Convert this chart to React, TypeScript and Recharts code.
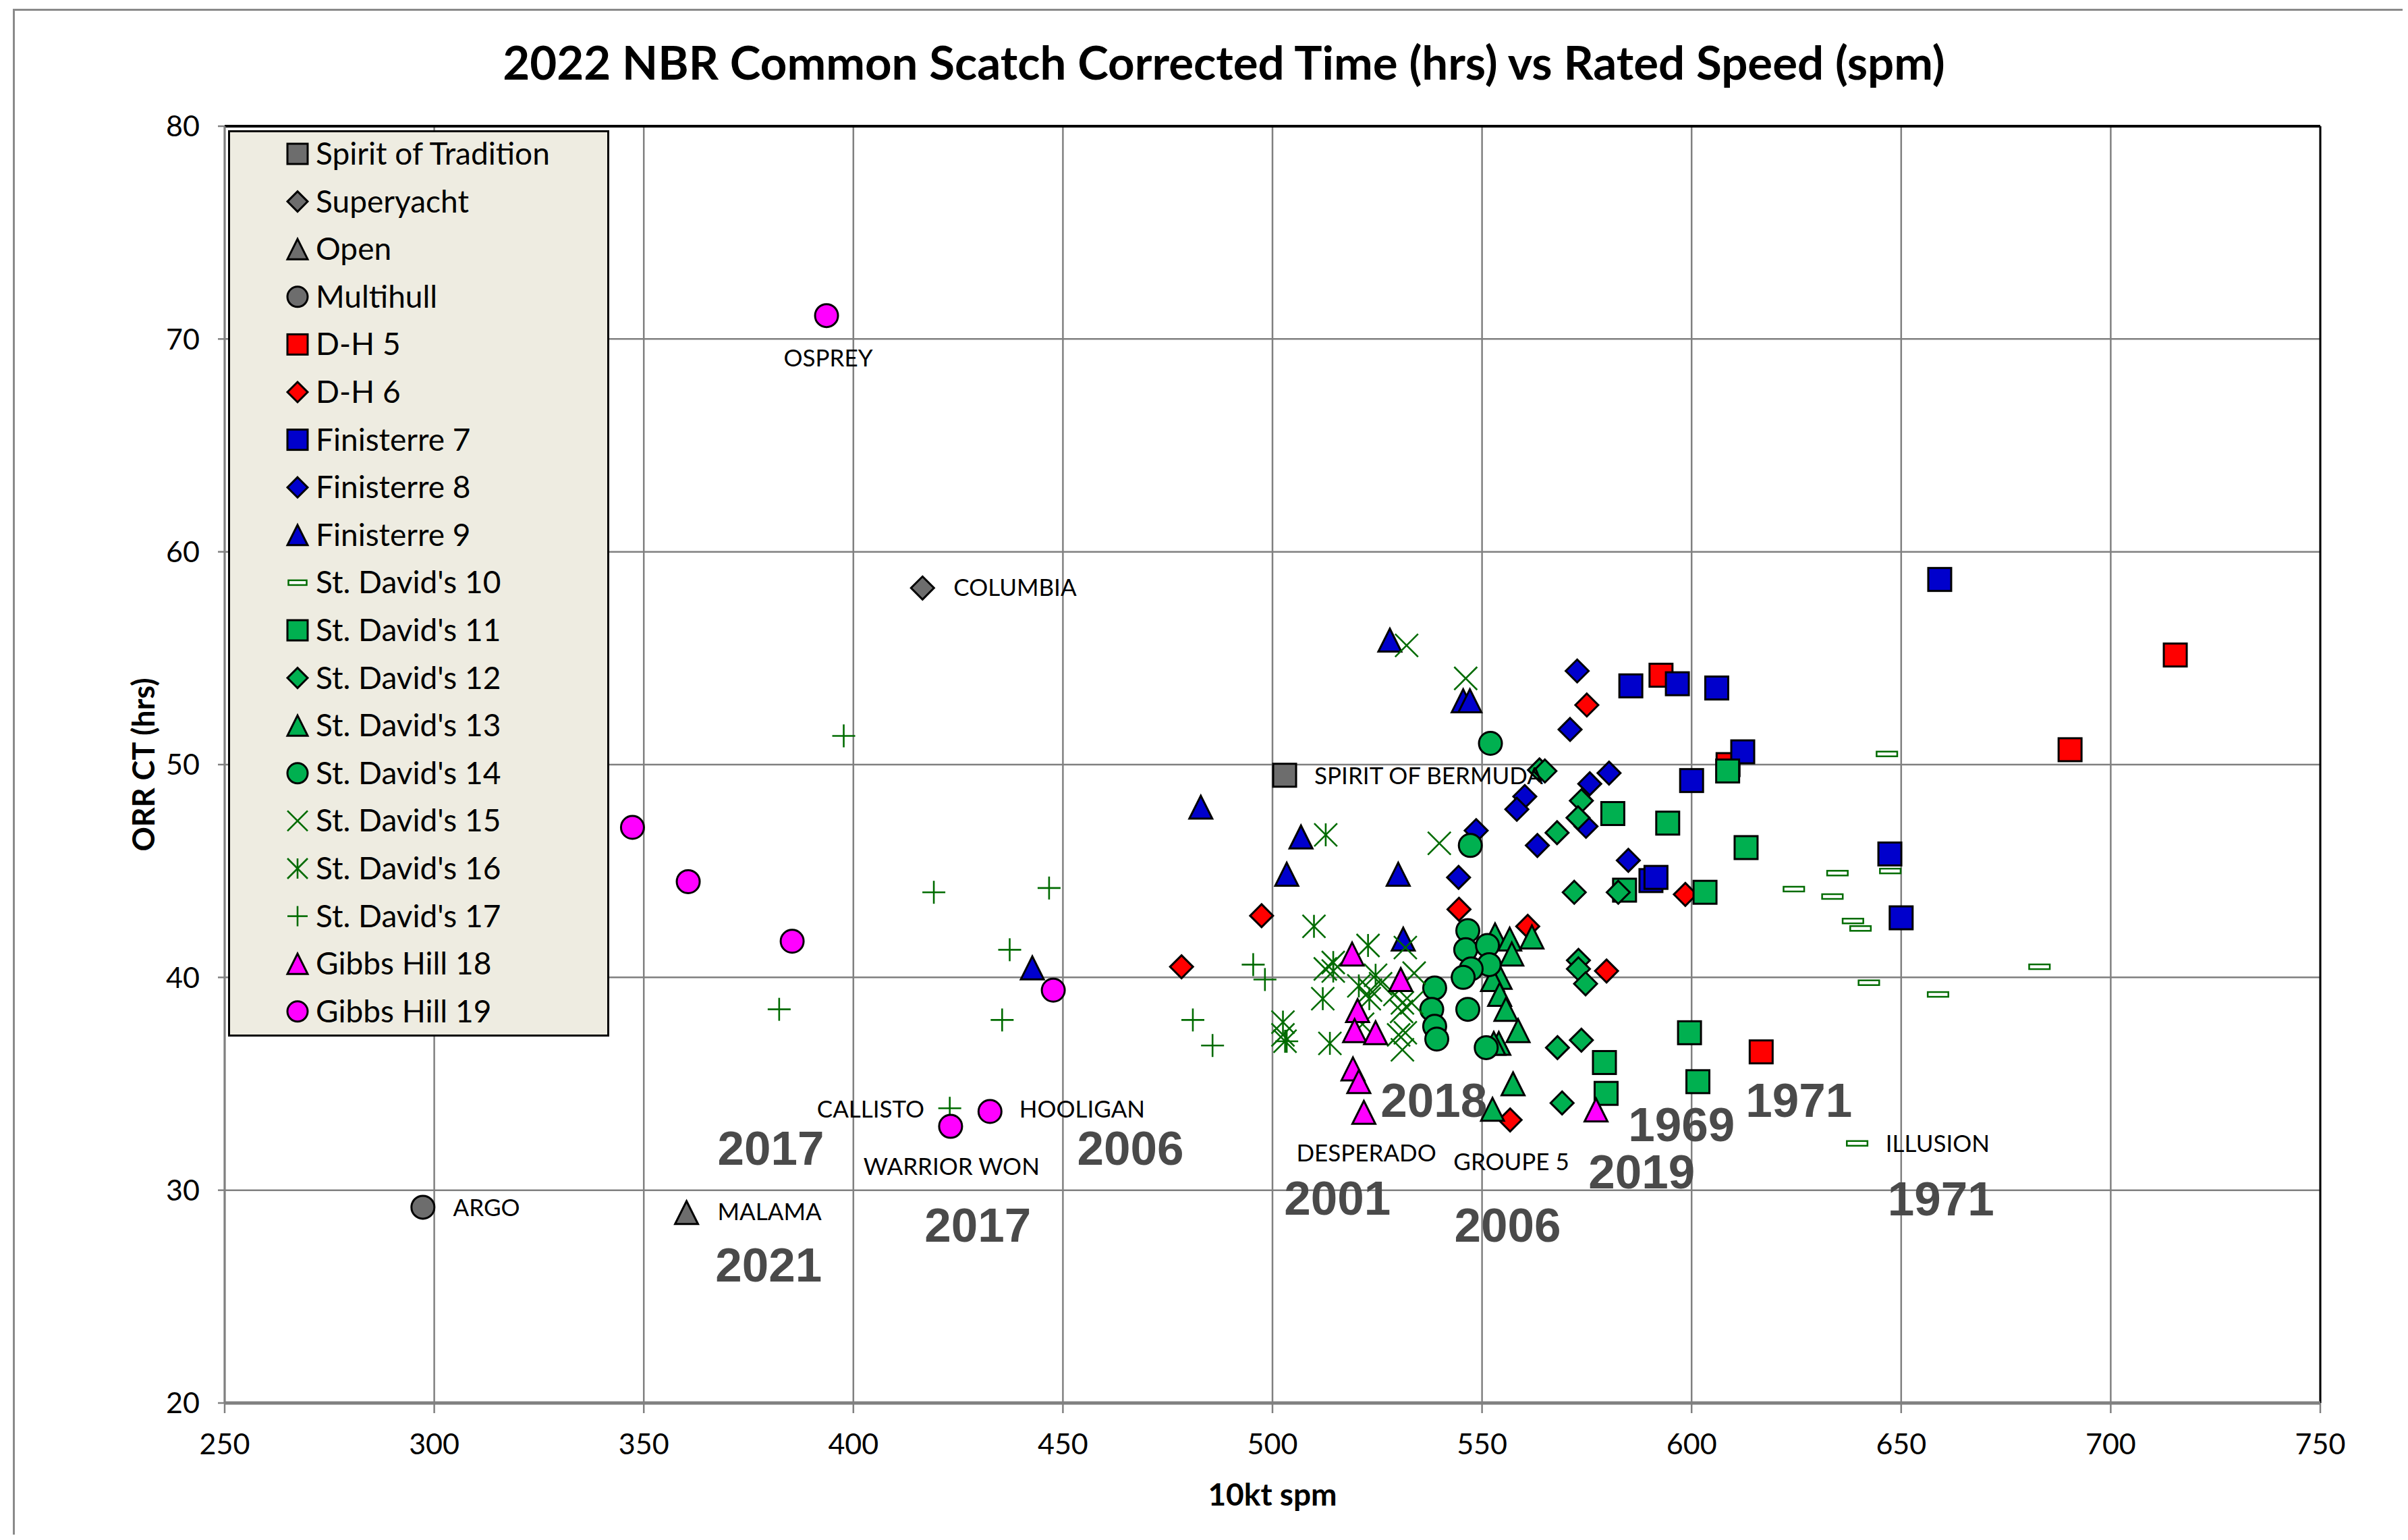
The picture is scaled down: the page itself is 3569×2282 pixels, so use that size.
import React from 'react';
import { ScatterChart, Scatter, XAxis, YAxis, CartesianGrid, ReferenceLine } from 'recharts';

type P = [number, number];
type Kind = 'square' | 'diamond' | 'triangle' | 'circle' | 'dash' | 'x' | 'asterisk' | 'plus';

const xTicks = [250, 300, 350, 400, 450, 500, 550, 600, 650, 700, 750];
const yTicks = [20, 30, 40, 50, 60, 70, 80];

const spiritOfTradition: P[] = [[502.9, 49.5]];
const superyacht: P[] = [[416.5, 58.3]];
const openClass: P[] = [[360.2, 28.95]];
const multihull: P[] = [[297.3, 29.2]];
const dh5: P[] = [[592.7, 54.2], [608.7, 50.0], [616.6, 36.5], [690.3, 50.7], [715.4, 55.15]];
const dh6: P[] = [[575, 52.8], [598.5, 43.9], [497.4, 42.9], [478.3, 40.5], [544.5, 43.2], [560.9, 42.4], [579.7, 40.3], [556.7, 33.3]];
const fin7: P[] = [[585.5, 53.7], [596.6, 53.8], [606, 53.6], [612.2, 50.6], [600, 49.25], [590.3, 44.55], [591.5, 44.7], [659.2, 58.7], [647.3, 45.8], [650, 42.8]];
const fin8: P[] = [[572.7, 54.4], [571, 51.65], [580.3, 49.6], [575.7, 49.1], [560.2, 48.5], [558.3, 47.9], [548.6, 46.9], [574.8, 47.1], [563.2, 46.2], [584.9, 45.5], [544.4, 44.7]];
const fin9: P[] = [[528, 55.85], [545.5, 53.0], [547.1, 53.0], [482.9, 48.0], [506.8, 46.6], [503.4, 44.85], [530, 44.85], [531.2, 41.8], [442.7, 40.45]];
const sd10: P[] = [[624.4, 44.15], [634.8, 44.9], [633.6, 43.8], [638.5, 42.65], [640.3, 42.3], [646.6, 50.5], [647.4, 45.0], [642.3, 39.75], [658.8, 39.2], [683, 40.5], [639.5, 32.2]];
const sd11: P[] = [[608.6, 49.7], [581.2, 47.7], [594.3, 47.25], [613, 46.1], [584, 44.1], [603.2, 44.0], [599.5, 37.4], [579.2, 36.0], [601.5, 35.1], [579.6, 34.55]];
const sd12: P[] = [[563.7, 49.75], [565, 49.7], [573.7, 48.3], [572.9, 47.5], [567.9, 46.8], [572, 44.0], [582.5, 44.0], [573, 40.8], [573, 40.4], [574.7, 39.7], [573.7, 37.05], [568, 36.7], [569.1, 34.1]];
const sd13: P[] = [[553.1, 42.0], [556.6, 41.8], [561.9, 41.9], [557.1, 41.1], [554.3, 40.0], [552.5, 39.9], [554.2, 39.2], [555.7, 38.5], [558.6, 37.5], [554, 36.9], [552.8, 36.9], [557.4, 35.0], [552.5, 33.8]];
const sd14: P[] = [[552, 51.0], [547.2, 46.2], [546.6, 42.2], [546.1, 41.3], [551.3, 41.5], [551.7, 40.6], [547.4, 40.4], [545.5, 40.0], [538.7, 39.5], [538, 38.5], [538.7, 37.7], [539.2, 37.1], [546.6, 38.5], [551, 36.7]];
const sd15: P[] = [[532, 55.6], [546.1, 54.05], [539.8, 46.3], [531.7, 41.4], [533.8, 40.2], [525.8, 39.7], [529.2, 39.2], [531, 38.8], [533.2, 38.8], [530.8, 38.4], [502.5, 37.3], [530.1, 37.3], [531.7, 37.4], [531, 36.6], [521.5, 37.8], [512.6, 40.4], [523.4, 39.4]];
const sd16: P[] = [[512.7, 46.7], [509.9, 42.4], [522.8, 41.5], [514.5, 40.7], [514.5, 40.3], [524.6, 40.1], [520.6, 39.6], [523.1, 39.0], [512, 39.0], [502.5, 37.9], [503, 37.0], [513.7, 36.9]];
const sd17: P[] = [[397.7, 51.35], [419.2, 44.0], [446.7, 44.2], [437.3, 41.3], [382.3, 38.5], [435.5, 38.0], [423, 33.85], [495.4, 40.6], [498.2, 39.9], [481, 38.0], [485.7, 36.8], [503.4, 37.0]];
const gh18: P[] = [[519, 41.1], [530.6, 39.9], [520.3, 38.44], [519.6, 37.5], [524.6, 37.4], [519.2, 35.7], [520.6, 35.1], [521.8, 33.66], [577.2, 33.77]];
const gh19: P[] = [[393.6, 71.1], [347.3, 47.05], [360.6, 44.5], [385.4, 41.7], [447.7, 39.4], [432.6, 33.7], [423.2, 33.0]];

const seriesNames = ['Spirit of Tradition', 'Superyacht', 'Open', 'Multihull', 'D-H 5', 'D-H 6', 'Finisterre 7', 'Finisterre 8', 'Finisterre 9', "St. David's 10", "St. David's 11", "St. David's 12", "St. David's 13", "St. David's 14", "St. David's 15", "St. David's 16", "St. David's 17", 'Gibbs Hill 18', 'Gibbs Hill 19'];
const seriesData: P[][] = [spiritOfTradition, superyacht, openClass, multihull, dh5, dh6, fin7, fin8, fin9, sd10, sd11, sd12, sd13, sd14, sd15, sd16, sd17, gh18, gh19];
const seriesKinds: Kind[] = ['square', 'diamond', 'triangle', 'circle', 'square', 'diamond', 'square', 'diamond', 'triangle', 'dash', 'square', 'diamond', 'triangle', 'circle', 'x', 'asterisk', 'plus', 'triangle', 'circle'];
const seriesColors = ['#6D6D6D', '#6D6D6D', '#6D6D6D', '#6D6D6D', '#FF0000', '#FF0000', '#0000CC', '#0000CC', '#0000CC', '#006B00', '#00B050', '#00B050', '#00B050', '#00B050', '#006B00', '#006B00', '#006B00', '#FF00FF', '#FF00FF'];

const yearLabels = [
  { text: '2017', x: 380.3, y: 32.0 },
  { text: '2021', x: 379.8, y: 26.52 },
  { text: '2017', x: 429.7, y: 28.38 },
  { text: '2006', x: 466.1, y: 32.0 },
  { text: '2018', x: 538.5, y: 34.27 },
  { text: '2001', x: 515.5, y: 29.66 },
  { text: '2006', x: 556.1, y: 28.38 },
  { text: '1969', x: 597.6, y: 33.12 },
  { text: '2019', x: 588.1, y: 30.9 },
  { text: '1971', x: 625.6, y: 34.27 },
  { text: '1971', x: 659.5, y: 29.64 },
];

const nameLabels = [
  { text: 'OSPREY', x: 394.0, y: 69.12, anchor: 'middle' },
  { text: 'COLUMBIA', x: 423.9, y: 58.34, anchor: 'start' },
  { text: 'SPIRIT OF BERMUDA', x: 510.0, y: 49.49, anchor: 'start' },
  { text: 'ARGO', x: 304.5, y: 29.19, anchor: 'start' },
  { text: 'MALAMA', x: 367.6, y: 28.98, anchor: 'start' },
  { text: 'CALLISTO', x: 391.3, y: 33.82, anchor: 'start' },
  { text: 'HOOLIGAN', x: 439.6, y: 33.8, anchor: 'start' },
  { text: 'WARRIOR WON', x: 402.4, y: 31.1, anchor: 'start' },
  { text: 'DESPERADO', x: 505.7, y: 31.76, anchor: 'start' },
  { text: 'GROUPE 5', x: 543.2, y: 31.35, anchor: 'start' },
  { text: 'ILLUSION', x: 646.3, y: 32.2, anchor: 'start' },
];

function marker(kind: Kind, cx: number, cy: number, color: string, s: number) {
  const h = s / 2;
  const sw = 3;
  switch (kind) {
    case 'square':
      return <rect x={cx - h} y={cy - h} width={s} height={s} fill={color} stroke="#000" strokeWidth={sw} />;
    case 'diamond':
      return <polygon points={`${cx},${cy - h} ${cx + h},${cy} ${cx},${cy + h} ${cx - h},${cy}`} fill={color} stroke="#000" strokeWidth={sw} />;
    case 'triangle':
      return <polygon points={`${cx},${cy - h} ${cx + h},${cy + h} ${cx - h},${cy + h}`} fill={color} stroke="#000" strokeWidth={sw} strokeLinejoin="miter" />;
    case 'circle':
      return <circle cx={cx} cy={cy} r={h} fill={color} stroke="#000" strokeWidth={sw} />;
    case 'dash':
      return <rect x={cx - h * 0.9} y={cy - 3.5} width={s * 0.9} height={7} fill="#fff" stroke={color} strokeWidth={2.5} />;
    case 'x':
      return (
        <g stroke={color} strokeWidth={2.6}>
          <line x1={cx - h} y1={cy - h} x2={cx + h} y2={cy + h} />
          <line x1={cx - h} y1={cy + h} x2={cx + h} y2={cy - h} />
        </g>
      );
    case 'asterisk':
      return (
        <g stroke={color} strokeWidth={2.6}>
          <line x1={cx - h} y1={cy - h} x2={cx + h} y2={cy + h} />
          <line x1={cx - h} y1={cy + h} x2={cx + h} y2={cy - h} />
          <line x1={cx} y1={cy - h} x2={cx} y2={cy + h} />
        </g>
      );
    case 'plus':
    default:
      return (
        <g stroke={color} strokeWidth={2.6}>
          <line x1={cx - h} y1={cy} x2={cx + h} y2={cy} />
          <line x1={cx} y1={cy - h} x2={cx} y2={cy + h} />
        </g>
      );
  }
}

const YearLabel = (props: any) => {
  const d = props.payload ?? props;
  return (
    <text x={props.cx} y={props.cy + 25.5} textAnchor="middle" fontFamily="'Liberation Sans', Arial, sans-serif" fontWeight="bold" fontSize={71} fill="#4A4A4A">
      {d.text}
    </text>
  );
};

const NameLabel = (props: any) => {
  const d = props.payload ?? props;
  return (
    <text x={props.cx} y={props.cy + 12.5} textAnchor={d.anchor} fontFamily="Lato, sans-serif" fontSize={35} fill="#000">
      {d.text}
    </text>
  );
};

const W = 3553;
const H = 2266;
const LEGEND_STEP = 70.6;

export default function App() {
  const fontTick = { fontFamily: 'Lato, sans-serif', fontSize: 43, fill: '#000' };
  return (
    <div style={{ position: 'relative', width: W, height: H, overflow: 'hidden', background: '#fff' }}>
      <div style={{ position: 'absolute', left: 11, top: 5, width: W + 20, height: H + 20, borderTop: '3px solid #8a8a8a', borderLeft: '3px solid #8a8a8a' }} />
      <ScatterChart width={W} height={H} margin={{ top: 179, right: 122, bottom: 5, left: 25 }}>
        <CartesianGrid stroke="#808080" strokeWidth={2.5} />
        <XAxis
          type="number"
          dataKey="x"
          domain={[250, 750]}
          ticks={xTicks}
          interval={0}
          allowDataOverflow
          height={190}
          tickSize={15}
          tickMargin={30}
          tick={fontTick}
          axisLine={{ stroke: '#808080', strokeWidth: 5 }}
          tickLine={{ stroke: '#808080', strokeWidth: 2.5 }}
          label={{
            content: (p: any) => {
              const vb = p.viewBox || { x: 325, y: 2071, width: 3106 };
              return (
                <text x={vb.x + vb.width / 2} y={vb.y + 152} textAnchor="middle" fontFamily="Lato, sans-serif" fontWeight="bold" fontSize={46} fill="#000">
                  10kt spm
                </text>
              );
            },
          }}
        />
        <YAxis
          type="number"
          dataKey="y"
          domain={[20, 80]}
          ticks={yTicks}
          interval={0}
          allowDataOverflow
          width={300}
          tickSize={10}
          tickMargin={27}
          tick={fontTick}
          axisLine={{ stroke: '#808080', strokeWidth: 3 }}
          tickLine={{ stroke: '#808080', strokeWidth: 2.5 }}
          label={{
            content: (p: any) => {
              const vb = p.viewBox || { x: 25, y: 179, width: 300, height: 1892 };
              const cx = vb.x + 179;
              const cy = vb.y + vb.height / 2;
              return (
                <text x={cx} y={cy} transform={`rotate(-90 ${cx} ${cy})`} textAnchor="middle" dominantBaseline="central" fontFamily="Lato, sans-serif" fontWeight="bold" fontSize={45} fill="#000">
                  ORR CT (hrs)
                </text>
              );
            },
          }}
        />
        <ReferenceLine y={80} stroke="#000" strokeWidth={4} />
        <ReferenceLine x={750} stroke="#000" strokeWidth={3} />
        {seriesData.map((arr, i) => (
          <Scatter
            key={seriesNames[i]}
            name={seriesNames[i]}
            data={arr.map(([x, y]) => ({ x, y }))}
            isAnimationActive={false}
            shape={(p: any) => marker(seriesKinds[i], p.cx, p.cy, seriesColors[i], 34)}
          />
        ))}
        <Scatter name="years" data={yearLabels} isAnimationActive={false} shape={YearLabel} />
        <Scatter name="names" data={nameLabels} isAnimationActive={false} shape={NameLabel} />
      </ScatterChart>
      <svg width={W} height={H} style={{ position: 'absolute', left: 0, top: 0, pointerEvents: 'none' }}>
        <text x={1806} y={110} textAnchor="middle" fontFamily="Lato, sans-serif" fontWeight="bold" fontSize={69} fill="#000">
          2022 NBR Common Scatch Corrected Time (hrs) vs Rated Speed (spm)
        </text>
        <g transform="translate(330,185)">
          <rect x={1.5} y={1.5} width={562} height={1340} fill="#EEECE1" stroke="#000" strokeWidth={3} />
          {seriesNames.map((n, i) => (
            <g key={n}>
              {marker(seriesKinds[i], 103, 35 + LEGEND_STEP * i, seriesColors[i], 30)}
              <text x={130} y={35 + LEGEND_STEP * i + 16} fontFamily="Lato, sans-serif" fontSize={46} fill="#000">
                {n}
              </text>
            </g>
          ))}
        </g>
      </svg>
    </div>
  );
}
